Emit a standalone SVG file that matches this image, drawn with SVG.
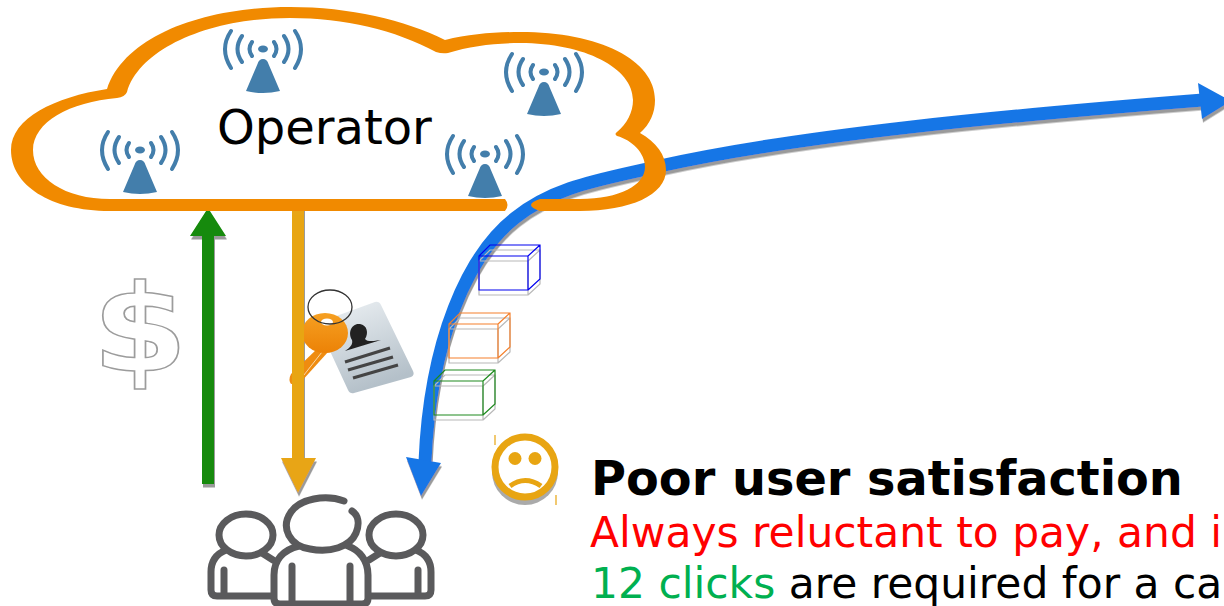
<svg xmlns="http://www.w3.org/2000/svg" width="1224" height="606" viewBox="0 0 1224 606">
<style>
text{font-family:"DejaVu Sans",sans-serif}
.t{font-size:42.400px}
.arc{fill:none;stroke:#437eab;stroke-width:4;stroke-linecap:round}
.box{fill:none;stroke-width:1.200}
.sk{fill:none;stroke:#5a5a5c;stroke-width:7;stroke-linecap:round;stroke-linejoin:round}
</style>
<defs>
<filter id="sh" x="-20%" y="-20%" width="140%" height="140%"><feDropShadow dx="1" dy="3.500" stdDeviation="0.2" flood-color="#9a9a9a"/></filter>
<linearGradient id="card" x1="0" y1="0" x2="0.4" y2="1"><stop offset="0" stop-color="#eef2f5"/><stop offset="1" stop-color="#b4c0c9"/></linearGradient>
<linearGradient id="key" x1="0" y1="0" x2="0" y2="1"><stop offset="0" stop-color="#f6a022"/><stop offset="1" stop-color="#ec8206"/></linearGradient>
<g id="ant">
<ellipse cx="0" cy="0" rx="5" ry="3.500" fill="#437eab"/>
<path class="arc" d="M-11-7Q-16 0-11 7M11-7Q16 0 11 7M-21-13Q-30 0-21 13M21-13Q30 0 21 13M-32-18Q-44 0-32 19M32-18Q44 0 32 19"/>
<path d="M0 10Q4 10 5.500 15L17 42Q0 46-17 42L-5.500 15Q-4 10 0 10Z" fill="#437eab"/>
</g>
<g id="box"><path class="box" d="M0 11H49V45H0ZM0 11L11 0H61V34L49 45M49 11L61 0"/></g>
</defs>

<g id="connectors">
<g id="to-internet" filter="url(#sh)">
<path d="M1203 100C1000 116 800 135 660 166C600 180 555 186 515 218C468 255 430 340 425 462" fill="none" stroke="#1976e6" stroke-width="13"/>
<path d="M1198 83L1231 101L1202 119ZM406 457L441 463L421 496Z" fill="#1976e6"/>
</g>
<g id="pay" filter="url(#sh)"><path d="M202 484V236H190L208 208L226 236H214V484Z" fill="#138a07"/></g>
<g id="auth" filter="url(#sh)"><path d="M292 205H304V458H316L298 493L281 458H292Z" fill="#e8a512"/></g>
</g>

<g id="dollar"><text x="0" y="0" transform="translate(92 371) scale(1.130 1)" font-size="122" font-weight="700" fill="#fff" stroke="#9c9c9c" stroke-width="1.500">$</text></g>

<g id="key-card">
<path d="M317 323L375 302Q379 301 381 305L413 371Q415 375 411 377L354 393Q350 394 348 390Z" fill="url(#card)"/>
<path d="M345 351C351 347 353 344 352 340C347 331 353 323 360 324C367 325 369 333 365 339C368 343 378 340 381 340Z" fill="#222"/>
<path d="M345 362L390 348M348 370L393 357M353 378L398 365" stroke="#444" stroke-width="3.200" fill="none"/>
<path d="M318 348L291 374Q288 380 291 384L300 383L328 352Z" fill="#ef8c10"/>
<path d="M322 352L300 380" stroke="#f9d9a8" stroke-width="1" fill="none"/>
<ellipse cx="325" cy="333" rx="23" ry="20" fill="url(#key)"/>
<ellipse cx="327" cy="322" rx="6" ry="3.500" fill="#fff"/>
<ellipse cx="330" cy="307" rx="22" ry="17" fill="none" stroke="#333" stroke-width="1.300"/>
<path d="M292 215H304V460H292Z" fill="#e8a512"/>
</g>

<g id="packets">
<g stroke="#b8b8b8" transform="translate(479 250)"><use href="#box"/></g>
<g stroke="#0000f0" transform="translate(479 245)"><use href="#box"/></g>
<g stroke="#b8b8b8" transform="translate(449 318)"><use href="#box"/></g>
<g stroke="#f5802c" transform="translate(449 313)"><use href="#box"/></g>
<g stroke="#b8b8b8" transform="translate(434 375)"><use href="#box"/></g>
<g stroke="#1e8a1e" transform="translate(434 370)"><use href="#box"/></g>
</g>

<g id="cloud">
<path fill="#f18a00" d="M505 199Q510 205 505 211H110C50 211 11 185 11 150C11 118 55 97 107 89C125 35 205 7 290 7C350 7 405 20 445 40C470 34 495 32 520 32C600 32 655 60 655 100C655 113 650 124 640 133C656 142 666 155 666 170C666 195 630 211 580 211H540Q522 205 540 199H580C620 199 645 185 645 167C645 153 632 140 617 136Q614 134 617 132C627 124 633 112 633 100C633 68 585 43 520 43C495 43 470 46 448 53Q442 54 436 52C395 30 345 18 290 18C210 18 140 48 127 92Q125 97 117 98C70 102 33 122 33 150C33 178 65 199 110 199Z"/>
</g>

<g id="antennas">
<use href="#ant" x="140" y="150"/>
<use href="#ant" x="263" y="49"/>
<use href="#ant" x="544" y="72"/>
<use href="#ant" x="485" y="154"/>
</g>
<g id="operator"><text x="217" y="144" font-size="48">Operator</text></g>

<g id="sad" fill="none">
<circle cx="525" cy="472" r="33" fill="#aaa"/>
<circle cx="525" cy="467" r="30" fill="#fff" stroke="#e8a512" stroke-width="7"/>
<circle cx="515" cy="458.500" r="6.500" fill="#e8a512"/>
<circle cx="535" cy="458.500" r="6.500" fill="#e8a512"/>
<path d="M510 486Q525 475 541 486" stroke="#e8a512" stroke-width="5"/>
<path d="M495 435V445M556 495V505" stroke="#e8a512" stroke-width="1.200"/>
</g>

<g id="users">
<g class="sk">
<ellipse cx="246" cy="535" rx="27" ry="21"/>
<ellipse cx="396" cy="535" rx="27" ry="21"/>
<path d="M226 550C216 554 211 562 211 572V590Q211 596 217 596H272M224 570V596M262 553L273 560"/>
<path d="M416 550C426 554 431 562 431 572V590Q431 596 425 596H370M418 570V596M380 553L369 560"/>
<path d="M344 501C325 494 300 499 291 512C280 528 290 546 310 549C330 553 350 547 356 533C360 523 358 515 352 511"/>
<path d="M299 546C283 550 274 560 274 575V598Q274 604 280 604H362Q368 604 368 598V575C368 560 359 550 348 546M292 566V604M350 566V604"/>
</g>
</g>

<g id="caption">
<text x="591" y="495" font-size="47.800" font-weight="700">Poor user satisfaction</text>
<text class="t" x="590" y="547" fill="#f00">Always reluctant to pay, and i</text>
<text class="t" x="591" y="598"><tspan fill="#00b050">12 clicks</tspan> are required for a ca</text>
</g>
</svg>
